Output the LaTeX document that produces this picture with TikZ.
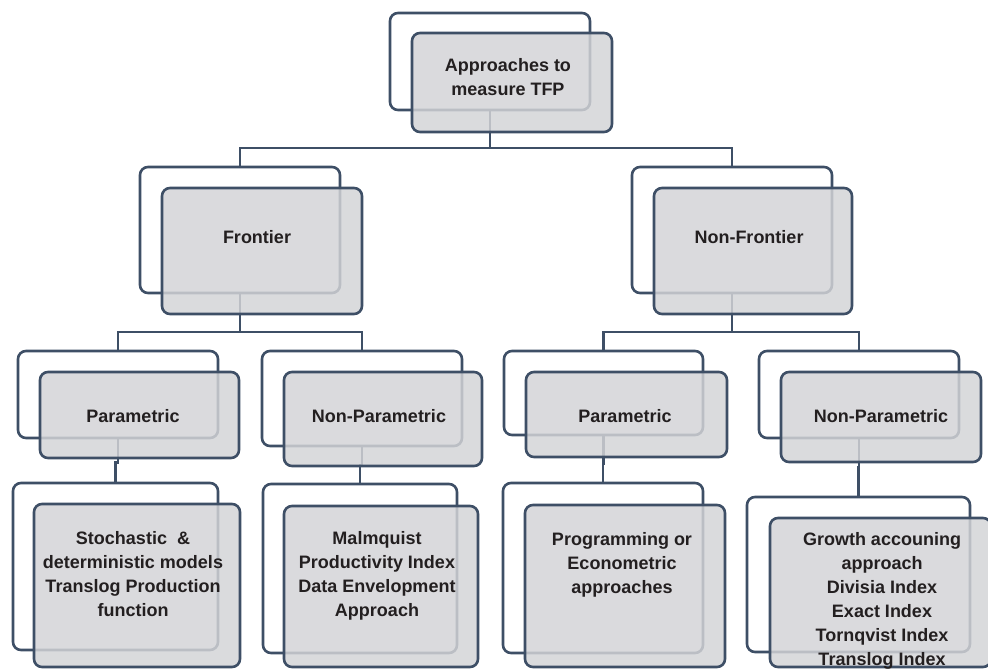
\documentclass[tikz,border=0pt]{standalone}
\usepackage{fontspec}
\setmainfont{Liberation Sans}
\usetikzlibrary{fit,calc}
\definecolor{navy}{HTML}{3E4F66}
\definecolor{boxgray}{HTML}{D3D4D7}
\definecolor{txt}{HTML}{231F20}
\begin{document}
\begin{tikzpicture}[x=1bp,y=-1bp,
  backbox/.style={draw=navy, line width=2.6bp, fill=white, rounded corners=8bp, inner sep=0pt},
  frontbox/.style={draw=navy, line width=2.6bp, fill=boxgray, fill opacity=0.84, rounded corners=8bp, inner sep=0pt},
  conn/.style={draw=navy, line width=2.6bp},
  lbl/.style={anchor=base, inner sep=0pt, text=txt, font=\fontsize{18bp}{24bp}\selectfont\bfseries}]
\useasboundingbox (0,0) rectangle (988,670);
% back boxes
\node[backbox, fit={(390,13)(590,110)}] (topB) {};
\node[backbox, fit={(140,167)(340,293)}] (frB) {};
\node[backbox, fit={(632,167)(832,293)}] (nfB) {};
\node[backbox, fit={(18,351)(218,438)}] (lpB) {};
\node[backbox, fit={(262,351)(462,446)}] (lnB) {};
\node[backbox, fit={(504,351)(703,435)}] (rpB) {};
\node[backbox, fit={(759,351)(959,438)}] (rnB) {};
\node[backbox, fit={(13,483)(218,650)}] (stB) {};
\node[backbox, fit={(263,484)(457,653)}] (maB) {};
\node[backbox, fit={(503,483)(703,653)}] (prB) {};
\node[backbox, fit={(747,497)(970,652)}] (grB) {};
% connectors
\coordinate (h1) at (0,148);
\coordinate (h2) at (0,332);
\draw[conn] (topB.south) -- (topB.south |- h1);
\draw[conn] (frB.north) |- (nfB.north |- h1) -- (nfB.north);
\draw[conn] (frB.south) -- (frB.south |- h2);
\draw[conn] (lpB.north) |- (lnB.north |- h2) -- (lnB.north);
\draw[conn] (nfB.south) -- (nfB.south |- h2);
\draw[conn] (rpB.north) |- (rnB.north |- h2) -- (rnB.north);
\draw[conn] (lpB.south) |- ($(lpB.south)!.55!(stB.north)$) -| (stB.north);
\draw[conn] (lnB.south) |- ($(lnB.south)!.5!(maB.north)$) -| (maB.north);
\draw[conn] (rpB.south) |- ($(rpB.south)!.6!(prB.north)$) -| (prB.north);
\draw[conn] (rnB.south) |- ($(rnB.south)!.5!(grB.north)$) -| (grB.north);
% front boxes
\node[frontbox, fit={(412,33)(612,132)}] (topF) {};
\node[frontbox, fit={(162,188)(362,314)}] (frF) {};
\node[frontbox, fit={(654,188)(852,314)}] (nfF) {};
\node[frontbox, fit={(40,372)(239,458)}] (lpF) {};
\node[frontbox, fit={(284,372)(482,466)}] (lnF) {};
\node[frontbox, fit={(526,372)(727,457)}] (rpF) {};
\node[frontbox, fit={(781,372)(981,462)}] (rnF) {};
\node[frontbox, fit={(34,504)(240,667)}] (stF) {};
\node[frontbox, fit={(284,506)(478,667)}] (maF) {};
\node[frontbox, fit={(525,505)(725,667)}] (prF) {};
\node[frontbox, fit={(770,518)(991,667)}] (grF) {};
% labels
\node[lbl] (topT) at (508,72) {\begin{tabular}[t]{@{}c@{}}Approaches to\\measure TFP\end{tabular}};
\node[lbl] (frT) at (257,243) {Frontier};
\node[lbl] (nfT) at (749,243) {Non-Frontier};
\node[lbl] (lpT) at (133,422) {Parametric};
\node[lbl] (lnT) at (379,422) {Non-Parametric};
\node[lbl] (rpT) at (625,422) {Parametric};
\node[lbl] (rnT) at (881,422) {Non-Parametric};
\node[lbl] (stT) at (133,544) {\begin{tabular}[t]{@{}c@{}}Stochastic\ \ \&\\deterministic models\\Translog Production\\function\end{tabular}};
\node[lbl] (maT) at (377,544) {\begin{tabular}[t]{@{}c@{}}Malmquist\\Productivity Index\\Data Envelopment\\Approach\end{tabular}};
\node[lbl] (prT) at (622,545) {\begin{tabular}[t]{@{}c@{}}Programming or\\Econometric\\approaches\end{tabular}};
\node[lbl] (grT) at (882,545) {\begin{tabular}[t]{@{}c@{}}Growth accouning\\approach\\Divisia Index\\Exact Index\\Tornqvist Index\\Translog Index\end{tabular}};
\end{tikzpicture}
\end{document}
